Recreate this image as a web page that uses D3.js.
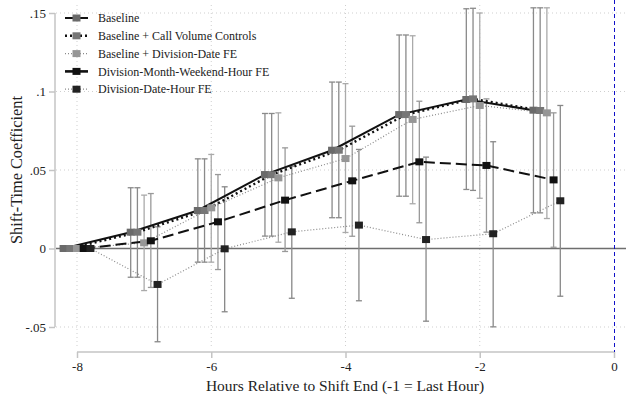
<!DOCTYPE html>
<html>
<head>
<meta charset="utf-8">
<script src="https://cdn.jsdelivr.net/npm/d3@7"></script>
<style>
  body { margin: 0; background: #fff; }
  text { font-family: "Liberation Serif", "Times New Roman", serif; fill: #222; }
</style>
</head>
<body>
<div class="chart"></div>
<script>
const hours = [-8, -7, -6, -5, -4, -3, -2, -1];
const xTicks = [-8, -6, -4, -2, 0];
const yTicks = [-0.05, 0, 0.05, 0.1, 0.15];
const yTickLabels = ["-.05", "0", ".05", ".1", ".15"];

const seriesNames = ["Baseline", "Baseline + Call Volume Controls", "Baseline + Division-Date FE",
                     "Division-Month-Weekend-Hour FE", "Division-Date-Hour FE"];
const offsets = [-0.2, -0.1, 0, 0.1, 0.2];

const baseline   = [0, 0.0104, 0.0242, 0.0471, 0.0626, 0.0853, 0.0949, 0.0881];
const baselineLo = [0, -0.0183, -0.0087, 0.0079, 0.0196, 0.0333, 0.0376, 0.0227];
const baselineHi = [0, 0.0387, 0.0571, 0.086, 0.106, 0.136, 0.1527, 0.1533];

const callVol   = [0, 0.0104, 0.0242, 0.047, 0.0626, 0.0853, 0.0953, 0.0879];
const callVolLo = [0, -0.0183, -0.0087, 0.0079, 0.0196, 0.0333, 0.037, 0.0227];
const callVolHi = [0, 0.0387, 0.0571, 0.086, 0.106, 0.136, 0.153, 0.1533];

const divDate   = [0, 0.0036, 0.0259, 0.045, 0.0573, 0.0822, 0.0911, 0.0864];
const divDateLo = [0, -0.0268, -0.0087, 0.004, 0.0102, 0.0285, 0.032, 0.0191];
const divDateHi = [0, 0.034, 0.0599, 0.0864, 0.105, 0.1355, 0.150, 0.1533];

const dmwh   = [0, 0.0049, 0.017, 0.0308, 0.0431, 0.0552, 0.0529, 0.0437];
const dmwhLo = [0, -0.0248, -0.0134, -0.0019, 0.0078, 0.0164, 0.0104, 0.0008];
const dmwhHi = [0, 0.035, 0.0471, 0.0641, 0.0779, 0.0938, 0.0953, 0.0864];

const ddh   = [0, -0.0229, -0.0002, 0.0106, 0.0149, 0.0057, 0.0094, 0.0304];
const ddhLo = [0, -0.0594, -0.0403, -0.0317, -0.0333, -0.0463, -0.0499, -0.0304];
const ddhHi = [0, 0.0138, 0.0393, 0.0524, 0.0631, 0.0582, 0.068, 0.0911];

// styles per series
const styles = [
  { line: "#111", width: 2, dash: null, marker: "#6a6a6a", ci: "#8a8a8a" },
  { line: "#111", width: 2.4, dash: "2,3", marker: "#767676", ci: "#8a8a8a" },
  { line: "#8a8a8a", width: 1.2, dash: "1,2", marker: "#969696", ci: "#aaaaaa" },
  { line: "#111", width: 2, dash: "11,5", marker: "#111", ci: "#999999" },
  { line: "#8a8a8a", width: 1.2, dash: "1,2", marker: "#222", ci: "#888888" }
];

const series = [
  [baseline, baselineLo, baselineHi],
  [callVol, callVolLo, callVolHi],
  [divDate, divDateLo, divDateHi],
  [dmwh, dmwhLo, dmwhHi],
  [ddh, ddhLo, ddhHi]
];

const width = 628, height = 402;
const svg = d3.select(".chart").append("svg")
    .attr("width", width)
    .attr("height", height);

const x = d3.scaleLinear().domain([-8, 0]).range([77, 614]);
const y = d3.scaleLinear().domain([-0.05, 0.15]).range([327, 13]);

/* gridlines */
svg.selectAll(".hgrid")
   .data(yTicks.filter(d => d !== 0))
   .enter().append("line")
      .attr("x1", 56).attr("x2", 626)
      .attr("y1", d => y(d)).attr("y2", d => y(d))
      .attr("stroke", "#cfcfcf")
      .attr("stroke-width", 1)
      .attr("stroke-dasharray", "1,3");

svg.selectAll(".vgrid")
   .data(xTicks.filter(d => d !== 0))
   .enter().append("line")
      .attr("x1", d => x(d)).attr("x2", d => x(d))
      .attr("y1", 5).attr("y2", 347)
      .attr("stroke", "#cfcfcf")
      .attr("stroke-width", 1)
      .attr("stroke-dasharray", "1,3");

// zero line
svg.append("line")
   .attr("x1", 56).attr("x2", 626)
   .attr("y1", y(0)).attr("y2", y(0))
   .attr("stroke", "#6e6e6e")
   .attr("stroke-width", 1.5);

// vertical reference at 0
svg.append("line")
   .attr("x1", x(0) + 0.5).attr("x2", x(0) + 0.5)
   .attr("y1", 0).attr("y2", 352)
   .attr("stroke", "#1010c8")
   .attr("stroke-width", 1)
   .attr("stroke-dasharray", "4,3");

/* axes */
const yAxis = svg.append("g")
   .attr("transform", "translate(55,0)")
   .call(d3.axisLeft(y).tickValues(yTicks).tickSize(6).tickPadding(3)
         .tickFormat((d, i) => yTickLabels[i]));
yAxis.select(".domain").attr("stroke", "#c4c4c4").attr("stroke-width", 1.5).attr("d", "M0," + y(0.15) + "V" + y(-0.05));
yAxis.selectAll(".tick line").attr("stroke", "#c4c4c4").attr("stroke-width", 1.5);
yAxis.selectAll(".tick text").attr("font-size", "13px");

const xAxis = svg.append("g")
   .attr("transform", "translate(0,352)")
   .call(d3.axisBottom(x).tickValues(xTicks).tickSize(6).tickPadding(4)
         .tickFormat(d3.format("d")));
xAxis.select(".domain").attr("stroke", "#c4c4c4").attr("stroke-width", 1.5).attr("d", "M" + x(-8) + ",0H" + x(0));
xAxis.selectAll(".tick line").attr("stroke", "#c4c4c4").attr("stroke-width", 1.5);
xAxis.selectAll(".tick text").attr("font-size", "13px")
     .text(d => d < 0 ? "-" + Math.abs(d) : d);

svg.append("text")
   .attr("x", 345).attr("y", 391)
   .attr("text-anchor", "middle")
   .attr("font-size", "15.5px")
   .text("Hours Relative to Shift End (-1 = Last Hour)");

svg.append("text")
   .attr("transform", "translate(22,170) rotate(-90)")
   .attr("text-anchor", "middle")
   .attr("font-size", "16.3px")
   .text("Shift-Time Coefficient");

/* confidence intervals */
const cap = 3;
series.forEach((s, k) => {
    const g = svg.append("g");
    const pts = hours.map((h, i) => ({ h: h + offsets[k], lo: s[1][i], hi: s[2][i] }))
                     .filter(d => d.hi !== d.lo);
    g.selectAll("line.bar").data(pts).enter().append("line")
        .attr("x1", d => x(d.h)).attr("x2", d => x(d.h))
        .attr("y1", d => y(d.lo)).attr("y2", d => y(d.hi))
        .attr("stroke", styles[k].ci).attr("stroke-width", 1.3);
    ["lo", "hi"].forEach(key => {
        g.selectAll("line.cap" + key).data(pts).enter().append("line")
            .attr("x1", d => x(d.h) - cap).attr("x2", d => x(d.h) + cap)
            .attr("y1", d => y(d[key])).attr("y2", d => y(d[key]))
            .attr("stroke", styles[k].ci).attr("stroke-width", 1.3);
    });
});

/* lines and markers */
const line = d3.line().x(d => x(d[0])).y(d => y(d[1]));
series.forEach((s, k) => {
    const pts = hours.map((h, i) => [h + offsets[k], s[0][i]]);
    svg.append("path")
       .attr("d", line(pts))
       .attr("fill", "none")
       .attr("stroke", styles[k].line)
       .attr("stroke-width", styles[k].width)
       .attr("stroke-dasharray", styles[k].dash);
});
series.forEach((s, k) => {
    const pts = hours.map((h, i) => [h + offsets[k], s[0][i]]);
    svg.append("g").selectAll("rect").data(pts).enter().append("rect")
       .attr("x", d => x(d[0]) - 4).attr("y", d => y(d[1]) - 3.5)
       .attr("width", 8).attr("height", 7)
       .attr("fill", styles[k].marker);
});

/* legend */
const legend = svg.append("g");
seriesNames.forEach((name, k) => {
    const ly = 18 + k * 17.8;
    legend.append("line")
       .attr("x1", 65).attr("x2", 88)
       .attr("y1", ly).attr("y2", ly)
       .attr("stroke", styles[k].line)
       .attr("stroke-width", styles[k].width + (k === 3 ? 0.6 : 0))
       .attr("stroke-dasharray", k === 3 ? null : styles[k].dash);
    legend.append("rect")
       .attr("x", 72.5).attr("y", ly - 3.5)
       .attr("width", 8).attr("height", 7)
       .attr("fill", styles[k].marker);
    legend.append("text")
       .attr("x", 98).attr("y", ly)
       .attr("dy", "0.35em")
       .attr("font-size", "12px")
       .text(name);
});
</script>
</body>
</html>
